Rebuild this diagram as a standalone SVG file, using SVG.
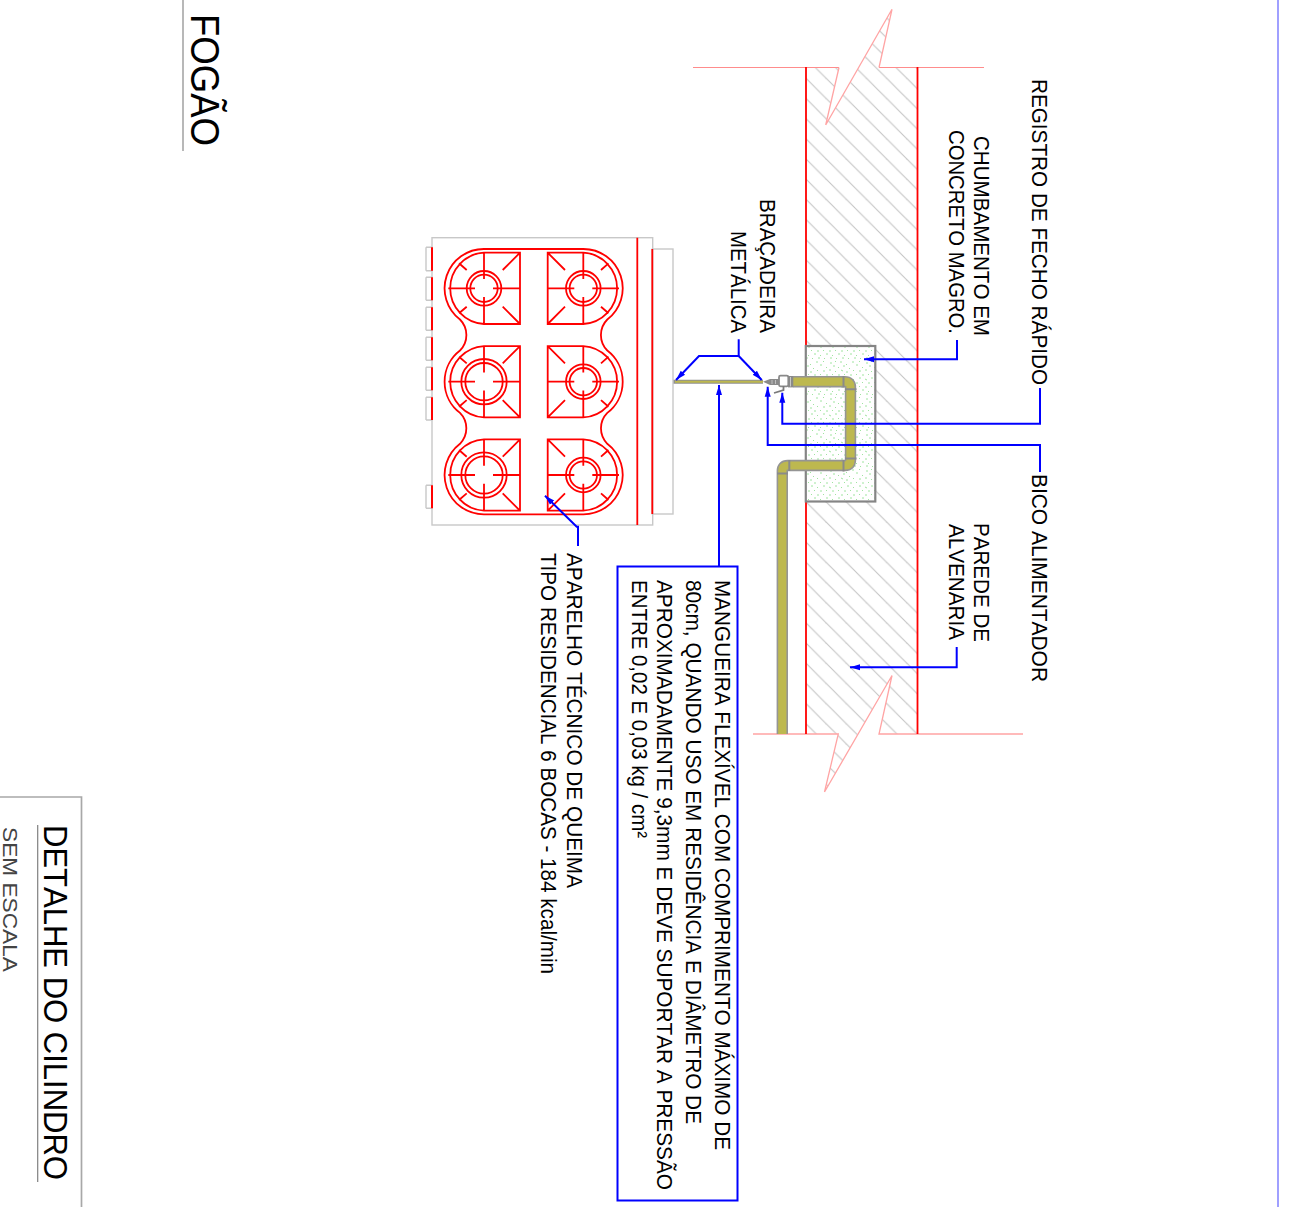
<svg xmlns="http://www.w3.org/2000/svg" width="1304" height="1207" viewBox="0 0 1304 1207">
<style>
text{font-family:"Liberation Sans",Arial,sans-serif;fill:#000;font-kerning:none}
.t{font-size:20.6px}
.b{fill:none;stroke:#0000ff;stroke-width:2}
.r{fill:none;stroke:#ff0000;stroke-width:1.8}
.g{fill:none;stroke:#c8c8c8;stroke-width:1.4}
.p{fill:none;stroke:#ffa4a4;stroke-width:1.3}
.ar{fill:#0000ff}
</style>
<defs>
<pattern id="hatch" patternUnits="userSpaceOnUse" width="20.17" height="20.17" patternTransform="translate(806 78.3)">
<path d="M-5,-5L25.17,25.17M-25,-5L5,25.17M15,-5L45,25.17" stroke="#c4c4c4" stroke-width="1.1" fill="none"/>
</pattern>
<pattern id="speck" patternUnits="userSpaceOnUse" width="36" height="36">
<path d="M2,3h2M7,1l1,1M12,2h2M18,4l1,1M24,2h2M31,1l1,1M5,6h2M10,7l1,1M15,6h2M21,8l1,1M28,5h2M34,7l1,1M1,10h2M7,11l1,1M13,10l2,1M18,12h2M25,10l1,1M31,11h2M4,14l1,1M10,15h2M16,14l1,1M22,15h2M28,14l1,1M34,15h2M1,19l2,1M7,18h2M13,19l1,1M19,18h2M25,19l1,1M31,18h2M4,23h2M10,22l1,1M16,23h2M22,22l1,1M28,23h2M34,22l1,1M1,27h2M7,26l1,1M13,27h2M19,26l1,1M25,27h2M31,26l1,1M4,31l1,1M10,30h2M16,31l1,1M22,30h2M28,31l1,1M34,30h2M2,34h2M8,34l1,1M14,34h2M20,34l1,1M26,34h2M32,34l1,1" stroke="#a0e4a0" stroke-width="1" fill="none"/>
</pattern>
<g id="burnerL"><path d="M520,252.7H484A35.7,35.7 0 0 0 484,324H520ZM484,252.7V279M484,297V324M448.3,288.3H475M493,288.3H520M520,252.7L502.7,270M520,324L502.7,306.7M459,263.3L466.7,270M459,313.3L466.7,306.7" class="r"/></g>
<g id="burnerR"><path d="M547.7,252.7H583.3A35.7,35.7 0 0 1 583.3,324H547.7ZM583.3,252.7V279M583.3,297V324M547.7,288.3H574.3M592.3,288.3H619M547.7,252.7L565,270M547.7,324L565,306.7M608.5,263.3L601,270M608.5,313.3L601,306.7" class="r"/></g>
<marker id="arrow" markerWidth="12" markerHeight="8" refX="10" refY="4" orient="auto" markerUnits="userSpaceOnUse"><path d="M0,1L10,4L0,7Z" class="ar"/></marker>
</defs>

<g id="frame">
<path d="M1278,0V1207" stroke="#8080ff" stroke-width="1.5" fill="none"/>
<path d="M0,797H81.5V1207" stroke="#a8a8a8" stroke-width="1.7" fill="none"/>
<path d="M183,0V151" stroke="#a0a0a0" stroke-width="1.5" fill="none"/>
<path d="M37.7,825V1182" stroke="#808080" stroke-width="1.2" fill="none"/>
<text transform="translate(190.5,14) rotate(90) scale(1,1.09)" font-size="36.5" textLength="132" lengthAdjust="spacingAndGlyphs">FOGÃO</text>
<text transform="translate(43.5,825) rotate(90) scale(1,1.09)" font-size="31" textLength="355" lengthAdjust="spacingAndGlyphs">DETALHE DO CILINDRO</text>
<text transform="translate(2.7,827) rotate(90)" font-size="21" textLength="145" lengthAdjust="spacingAndGlyphs" style="fill:#444">SEM ESCALA</text>
</g>

<g id="wall">
<path d="M806,67H839L825.7,125L892,9.3L879,67H917.5V734H879L892,675.5L824.5,792L838.3,734H806Z" fill="url(#hatch)"/>
<path d="M693,67.5H839M879,67.5H984" class="p" style="stroke:#ff8c8c;stroke-width:1.1"/>
<path d="M839,67.5L825.7,125L892,9.3L879,67.5" class="p"/>
<path d="M753,734H838.3L824.5,792L892,675.5L879,734H1023" class="p"/>
<path d="M806,67V734M917.5,67V734" class="r"/>
</g>

<g id="block">
<rect x="805.8" y="346" width="69.5" height="155.5" fill="#fff"/>
<rect x="805.8" y="346" width="69.5" height="155.5" fill="url(#speck)" stroke="#858585" stroke-width="2.2"/>
</g>

<g id="pipe">
<path d="M793,381.7H845Q850.5,381.7 850.5,387V460Q850.5,465.5 845,465.5H787.5Q782.3,465.5 782.3,471V734" fill="none" stroke="#959595" stroke-width="11.4"/>
<path d="M793,381.7H845Q850.5,381.7 850.5,387V460Q850.5,465.5 845,465.5H787.5Q782.3,465.5 782.3,471V734" fill="none" stroke="#bdb84f" stroke-width="8.2"/>
<path d="M843.5,376V387.5M845,389.3H856.5M845,458.5H856.5M843.5,460V471.5M789.3,460V471M777,473.5H788" stroke="#8a8a8a" stroke-width="2" fill="none"/>
</g>

<g id="valve">
<path d="M763,381.7L770,379H779V385H770Z" fill="#8a8a8a"/>
<path d="M772,380V384M775.5,380V384" stroke="#c0c0c0" stroke-width="1"/>
<rect x="788" y="376" width="5.3" height="11.4" fill="#8a8a8a"/>
<path d="M790.5,377V386.5" stroke="#c8c8c8" stroke-width="1"/>
<rect x="779" y="375.7" width="9.3" height="10.6" rx="1.5" fill="#fff" stroke="#8a8a8a" stroke-width="1.8"/>
<path d="M783.5,386V390L774,393" stroke="#7a7a7a" stroke-width="1.8" fill="none"/>
</g>

<g id="hose">
<path d="M673,381.7H763" stroke="#8f8f8f" stroke-width="4" fill="none"/>
<path d="M675,381.7H763" stroke="#bdb84f" stroke-width="2" fill="none"/>
</g>

<g id="stove">
<rect x="432" y="237.7" width="220.7" height="287.3" class="g"/>
<rect x="652.3" y="249" width="20.7" height="265" class="g"/>
<path d="M426,247.3H432.5M426,270.7H432.5M426,247.3V270.7M426,277.3H432.5M426,300.3H432.5M426,277.3V300.3M426,307.3H432.5M426,330.3H432.5M426,307.3V330.3M426,337.3H432.5M426,360.3H432.5M426,337.3V360.3M426,367.3H432.5M426,390.3H432.5M426,367.3V390.3M426,397.3H432.5M426,420H432.5M426,397.3V420M426,485.3H432.5M426,508.3H432.5M426,485.3V508.3" class="g"/>
<path d="M432,247.3V270.7M432,277.3V300.3M432,307.3V330.3M432,337.3V360.3M432,367.3V390.3M432,397.3V420M432,485.3V508.3" class="r" style="stroke-width:2"/>
<path d="M637.3,237.7V525M652.3,249V514" class="r"/>
<path d="M484,249H583.3A39.3,39.3 0 0 1 607.3,319.5A22,22 0 0 0 607.3,350.5A39.3,39.3 0 0 1 607.3,412.9A22,22 0 0 0 607.3,443.8A39.3,39.3 0 0 1 583.3,514.3H484A39.3,39.3 0 0 1 460,443.8A22,22 0 0 0 460,412.9A39.3,39.3 0 0 1 460,350.5A22,22 0 0 0 460,319.5A39.3,39.3 0 0 1 484,249Z" class="r"/>
<use href="#burnerL"/>
<use href="#burnerL" y="93.4"/>
<use href="#burnerL" y="186.7"/>
<use href="#burnerR"/>
<use href="#burnerR" y="93.4"/>
<use href="#burnerR" y="186.7"/>
<g class="r">
<circle cx="484" cy="288.3" r="17.3"/><circle cx="484" cy="288.3" r="13.7"/>
<circle cx="484" cy="381.7" r="22.7"/><circle cx="484" cy="381.7" r="18.7"/>
<circle cx="484" cy="475" r="22.7"/><circle cx="484" cy="475" r="18.7"/>
<circle cx="583.3" cy="288.3" r="17.3"/><circle cx="583.3" cy="288.3" r="13.7"/>
<circle cx="583.3" cy="381.7" r="17.3"/><circle cx="583.3" cy="381.7" r="13.7"/>
<circle cx="583.3" cy="475" r="17.3"/><circle cx="583.3" cy="475" r="13.7"/>
</g>
</g>

<g id="connectors">
<rect x="617.5" y="566.5" width="120" height="634" class="b"/>
<path d="M719,566.5V385" class="b" marker-end="url(#arrow)"/>
<path d="M738.7,339.3V356H699L676,380" class="b" marker-end="url(#arrow)"/>
<path d="M738.7,356L761.7,380" class="b" marker-end="url(#arrow)"/>
<path d="M1040,472V445H767.7V386.7" class="b" marker-end="url(#arrow)"/>
<path d="M1040,388V423.7H782.3V392.7" class="b" marker-end="url(#arrow)"/>
<path d="M957,340V359.3H864" class="b" marker-end="url(#arrow)"/>
<path d="M956.7,647V667.3H850" class="b" marker-end="url(#arrow)"/>
<path d="M578,546V526.7H576.7L545,495.7" class="b" marker-end="url(#arrow)"/>
</g>

<g id="labels">
<text class="t" transform="translate(1031.5,79) rotate(90) scale(1,1.09)" textLength="306" lengthAdjust="spacingAndGlyphs">REGISTRO DE FECHO RÁPIDO</text>
<text class="t" transform="translate(1031.5,474) rotate(90) scale(1,1.09)" textLength="208" lengthAdjust="spacingAndGlyphs">BICO ALIMENTADOR</text>
<text class="t" transform="translate(974,136) rotate(90) scale(1,1.09)" textLength="200" lengthAdjust="spacingAndGlyphs">CHUMBAMENTO EM</text>
<text class="t" transform="translate(948.5,130) rotate(90) scale(1,1.09)" textLength="204" lengthAdjust="spacingAndGlyphs">CONCRETO MAGRO.</text>
<text class="t" transform="translate(974,523) rotate(90) scale(1,1.09)" textLength="119" lengthAdjust="spacingAndGlyphs">PAREDE DE</text>
<text class="t" transform="translate(948.5,524) rotate(90) scale(1,1.09)" textLength="116" lengthAdjust="spacingAndGlyphs">ALVENARIA</text>
<text class="t" transform="translate(759.5,199) rotate(90) scale(1,1.09)" textLength="134" lengthAdjust="spacingAndGlyphs">BRAÇADEIRA</text>
<text class="t" transform="translate(730.5,231) rotate(90) scale(1,1.09)" textLength="102" lengthAdjust="spacingAndGlyphs">METÁLICA</text>
<text class="t" transform="translate(567,553) rotate(90) scale(1,1.09)" textLength="335" lengthAdjust="spacingAndGlyphs">APARELHO TÉCNICO DE QUEIMA</text>
<text class="t" transform="translate(541,553) rotate(90) scale(1,1.09)" textLength="421" lengthAdjust="spacingAndGlyphs">TIPO RESIDENCIAL 6 BOCAS - 184 kcal/min</text>
<text class="t" transform="translate(714.5,580) rotate(90) scale(1,1.09)" textLength="570" lengthAdjust="spacingAndGlyphs">MANGUEIRA FLEXÍVEL COM COMPRIMENTO MÁXIMO DE</text>
<text class="t" transform="translate(685.5,580) rotate(90) scale(1,1.09)" textLength="544" lengthAdjust="spacingAndGlyphs">80cm, QUANDO USO EM RESIDÊNCIA E DIÂMETRO DE</text>
<text class="t" transform="translate(657.3,580) rotate(90) scale(1,1.09)" textLength="610" lengthAdjust="spacingAndGlyphs">APROXIMADAMENTE 9,3mm E DEVE SUPORTAR A PRESSÃO</text>
<text class="t" transform="translate(632,580) rotate(90) scale(1,1.09)" textLength="258" lengthAdjust="spacingAndGlyphs">ENTRE 0,02 E 0,03 kg / cm²</text>
</g>
</svg>
